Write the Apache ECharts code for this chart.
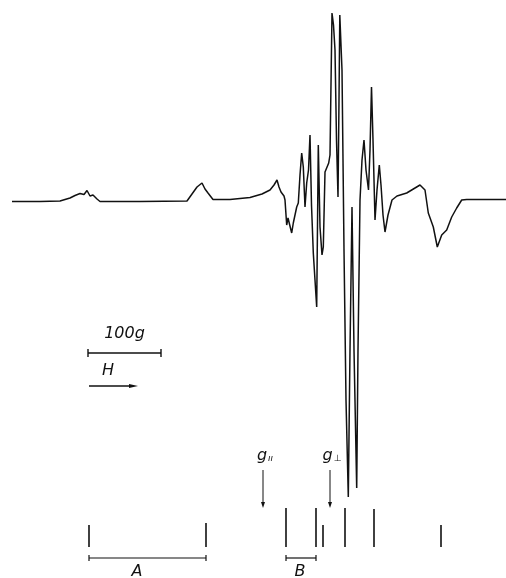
<!DOCTYPE html>
<html>
<head>
<meta charset="utf-8">
<script src="https://cdn.jsdelivr.net/npm/echarts@6/dist/echarts.min.js"></script>
<style>html,body{margin:0;padding:0;background:#fff;}#c{width:506px;height:578px;}</style>
</head>
<body>
<div id="c"></div>
<script>
// EPR spectrum: magnetic field (arbitrary units, ~0.73 unit per gauss) vs derivative signal
const field = [12,40,60,65,70,75,80,84,87,90,93,97,100,140,187,192,197,202,205,208,213,230,250,262,270,274,277,279,281,284,285,286.7,288,290,291.7,293.3,296.7,298.3,300,301.7,303.3,305,306.7,308.5,310,311.5,313.3,315,316.7,318.3,320,322,323.3,325,328.7,330,332,333.5,335,336.5,338,339,339.8,342,344,346,348.3,350,352,354,356.7,358,360,362,364,366,368.5,370,371.5,373,375,377,379.3,381,383,385,388,392,397,406.7,420,425,428.3,433.3,437.3,441.7,446.7,451.7,456.7,461.7,466.7,506];
const signal = [-1.5,-1.5,-1,0.5,2,4.5,6.5,5.5,9.5,4,5,1,-1.5,-1.5,-1,6,13,17,11,7,0.5,0.5,2.5,6,10,15,20,13,8,4,0,-25,-18,-17,-33,-23,-7,-3,25,47,33,-7,17,30,65,-5,-53,-80,-107,55,-27,-55,-47,28,37,45,187,175,150,60,3,100,185,130,-50,-200,-297,-150,-7,-150,-288,-150,0,40,60,30,10,50,113,60,-20,10,35,15,-15,-32,-15,0,4,7,15,10,-13,-27,-47,-35,-30,-17,-8,0,0.5,0.5];

// Stick diagram (line positions and relative heights)
const stickField = [89,206,286,316,323,345,374,441];
const stickHeight = [22,24,39,39,22,39,38,22];
// Splitting brackets
const bracketStart = [89,286];
const bracketEnd = [206,316];
const bracketLabel = ['A','B'];
const bracketLabelField = [137,300];
// g-value arrows
const gArrowField = [263,330];
const gLabelMain = ['g','g'];
const gLabelSub = ['\u0131\u0131','\u22A5'];
// Scale: 100 gauss bar and field direction
const scaleStart = 88, scaleEnd = 161, scaleText = '100g';
const hStart = 89, hEnd = 138, hText = 'H';

const chart = echarts.init(document.getElementById('c'));
const ink = '#111';
const fnt = 'italic 16px "DejaVu Sans"';

const stickBase = -347;
const option = {
  backgroundColor:'#fff',
  animation:false,
  grid:{left:0,right:0,top:0,bottom:0},
  xAxis:{type:'value',min:0,max:506,show:false},
  yAxis:{type:'value',min:-378,max:200,show:false},
  series:[
    {type:'line',data:field.map((f,i)=>[f,signal[i]]),showSymbol:false,
     lineStyle:{color:ink,width:1.5},z:5},
    {type:'custom',data:stickField.map((f,i)=>[f,stickHeight[i]]),
     renderItem:(p,api)=>{
       const a=api.coord([api.value(0),stickBase+api.value(1)]);
       const b=api.coord([api.value(0),stickBase]);
       return {type:'line',shape:{x1:a[0],y1:a[1],x2:b[0],y2:b[1]},style:{stroke:ink,lineWidth:1.6}};
     }},
    {type:'custom',data:bracketStart.map((s,i)=>[s,bracketEnd[i],bracketLabelField[i]]),
     renderItem:(p,api)=>{
       const yv=-358;
       const a=api.coord([api.value(0),yv]);
       const b=api.coord([api.value(1),yv]);
       const t=api.coord([api.value(2),-372]);
       return {type:'group',children:[
         {type:'line',shape:{x1:a[0],y1:a[1],x2:b[0],y2:b[1]},style:{stroke:ink,lineWidth:1.2}},
         {type:'line',shape:{x1:a[0],y1:a[1]-3,x2:a[0],y2:a[1]+3},style:{stroke:ink,lineWidth:1.2}},
         {type:'line',shape:{x1:b[0],y1:b[1]-3,x2:b[0],y2:b[1]+3},style:{stroke:ink,lineWidth:1.2}},
         {type:'text',style:{text:bracketLabel[p.dataIndex],x:t[0],y:t[1],textAlign:'center',textVerticalAlign:'middle',font:fnt,fill:ink}}
       ]};
     }},
    {type:'custom',data:gArrowField.map(f=>[f]),
     renderItem:(p,api)=>{
       const a=api.coord([api.value(0),-270]);
       const b=api.coord([api.value(0),-308]);
       const t=api.coord([api.value(0)+2,-256]);
       return {type:'group',children:[
         {type:'line',shape:{x1:a[0],y1:a[1],x2:b[0],y2:b[1]-3},style:{stroke:ink,lineWidth:1}},
         {type:'polygon',shape:{points:[[b[0]-2,b[1]-6],[b[0]+2,b[1]-6],[b[0],b[1]]]},style:{fill:ink}},
         {type:'text',style:{rich:{m:{font:fnt,fill:ink},s:{font:'italic 9px "DejaVu Sans"',fill:ink,padding:[6,0,0,1]}},
           text:'{m|'+gLabelMain[p.dataIndex]+'}{s|'+gLabelSub[p.dataIndex]+'}',x:t[0],y:t[1],textAlign:'center',textVerticalAlign:'middle'}}
       ]};
     }},
    {type:'custom',data:[[scaleStart,scaleEnd,hStart,hEnd]],
     renderItem:(p,api)=>{
       const a=api.coord([api.value(0),-153]);
       const b=api.coord([api.value(1),-153]);
       const tt=api.coord([(api.value(0)+api.value(1))/2,-134]);
       const h1=api.coord([api.value(2),-186]);
       const h2=api.coord([api.value(3),-186]);
       const ht=api.coord([api.value(2)+19,-171]);
       return {type:'group',children:[
         {type:'line',shape:{x1:a[0],y1:a[1],x2:b[0],y2:b[1]},style:{stroke:ink,lineWidth:1.6}},
         {type:'line',shape:{x1:a[0],y1:a[1]-4,x2:a[0],y2:a[1]+4},style:{stroke:ink,lineWidth:1.4}},
         {type:'line',shape:{x1:b[0],y1:b[1]-4,x2:b[0],y2:b[1]+4},style:{stroke:ink,lineWidth:1.4}},
         {type:'text',style:{text:scaleText,x:tt[0],y:tt[1],textAlign:'center',textVerticalAlign:'middle',font:fnt,fill:ink}},
         {type:'line',shape:{x1:h1[0],y1:h1[1],x2:h2[0]-6,y2:h2[1]},style:{stroke:ink,lineWidth:1.4}},
         {type:'polygon',shape:{points:[[h2[0]-9,h2[1]-2],[h2[0]-9,h2[1]+2],[h2[0],h2[1]]]},style:{fill:ink}},
         {type:'text',style:{text:hText,x:ht[0],y:ht[1],textAlign:'center',textVerticalAlign:'middle',font:fnt,fill:ink}}
       ]};
     }}
  ]
};
chart.setOption(option);
</script>
</body>
</html>
